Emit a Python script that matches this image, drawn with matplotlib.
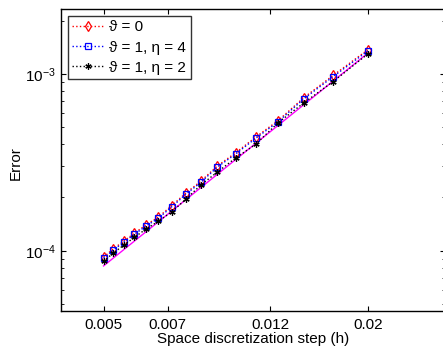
import numpy as np
import matplotlib
matplotlib.use('Agg')
import matplotlib.pyplot as plt
from matplotlib.ticker import FixedLocator, NullLocator, FixedFormatter

plt.rcParams['font.family'] = ['Liberation Sans', 'DejaVu Sans']
plt.rcParams['mathtext.fontset'] = 'custom'
plt.rcParams['mathtext.rm'] = 'Liberation Sans'

# mesh sizes h = 1/N, N = 200, 190, ..., 50
h = [0.005, 0.005263, 0.005556, 0.005882, 0.00625, 0.006667, 0.007143, 0.007692,
     0.008333, 0.009091, 0.01, 0.01111, 0.0125, 0.01429, 0.01667, 0.02]

err_theta0 = [9.2e-5, 1.024e-4, 1.132e-4, 1.257e-4, 1.401e-4, 1.549e-4, 1.795e-4, 2.111e-4,
              2.475e-4, 3.021e-4, 3.579e-4, 4.39e-4, 5.45e-4, 7.33e-4, 9.80e-4, 1.369e-3]
err_eta4 = [9.06e-5, 1.009e-4, 1.115e-4, 1.239e-4, 1.380e-4, 1.526e-4, 1.768e-4, 2.080e-4,
            2.438e-4, 2.976e-4, 3.526e-4, 4.325e-4, 5.37e-4, 7.22e-4, 9.65e-4, 1.349e-3]
err_eta2 = [8.71e-5, 9.70e-5, 1.073e-4, 1.191e-4, 1.327e-4, 1.467e-4, 1.656e-4, 1.949e-4,
            2.355e-4, 2.789e-4, 3.346e-4, 4.0e-4, 5.30e-4, 6.85e-4, 9.04e-4, 1.297e-3]

# second order reference line
ref_h = [0.005, 0.02]
ref_err = [8.2e-5, 1.31e-3]

xticks = [0.005, 0.007, 0.012, 0.02]
xticklabels = ['0.005', '0.007', '0.012', '0.02']

fig = plt.figure(figsize=(4.43, 3.49), dpi=100)
ax = fig.add_axes([61 / 443, 38 / 349, 384 / 443, 302 / 349])

ax.loglog(ref_h, ref_err, '-', color='magenta', lw=1.0)
ax.loglog(h, err_theta0, ':', color='red', marker='d', mfc='none', mec='red',
          ms=5, mew=0.9, lw=1.0, label='ϑ = 0')
ax.loglog(h, err_eta4, ':', color='blue', marker='s', mfc='none', mec='blue',
          ms=4.2, mew=0.9, lw=1.0, label='ϑ = 1, η = 4')
ax.loglog(h, err_eta2, ':', color='black', marker=(6, 2, 0),
          ms=4.5, mew=0.9, lw=1.0, label='ϑ = 1, η = 2')

ax.set_xlim(0.004, 0.03)
ax.set_ylim(4.56e-5, 2.33e-3)
ax.xaxis.set_major_locator(FixedLocator(xticks))
ax.xaxis.set_major_formatter(FixedFormatter(xticklabels))
ax.xaxis.set_minor_locator(NullLocator())

ax.tick_params(which='both', direction='in', top=True, right=True, labelsize=11)
ax.tick_params(which='major', length=3.5, width=0.8)
ax.tick_params(which='minor', length=2, width=0.6)
ax.tick_params(axis='x', pad=5)
for s in ax.spines.values():
    s.set_linewidth(1.0)

ax.set_xlabel('Space discretization step (h)', fontsize=11, labelpad=0)
ax.set_ylabel('Error', fontsize=11)
ax.yaxis.set_label_coords(-0.10, 0.49)

leg = ax.legend(loc='upper left', fontsize=11, frameon=True, fancybox=False,
                edgecolor='black', borderaxespad=0.45, handlelength=2.0,
                handletextpad=0.4, labelspacing=0.4, borderpad=0.3)
leg.get_frame().set_linewidth(1.0)

fig.savefig('out.png', dpi=100)
